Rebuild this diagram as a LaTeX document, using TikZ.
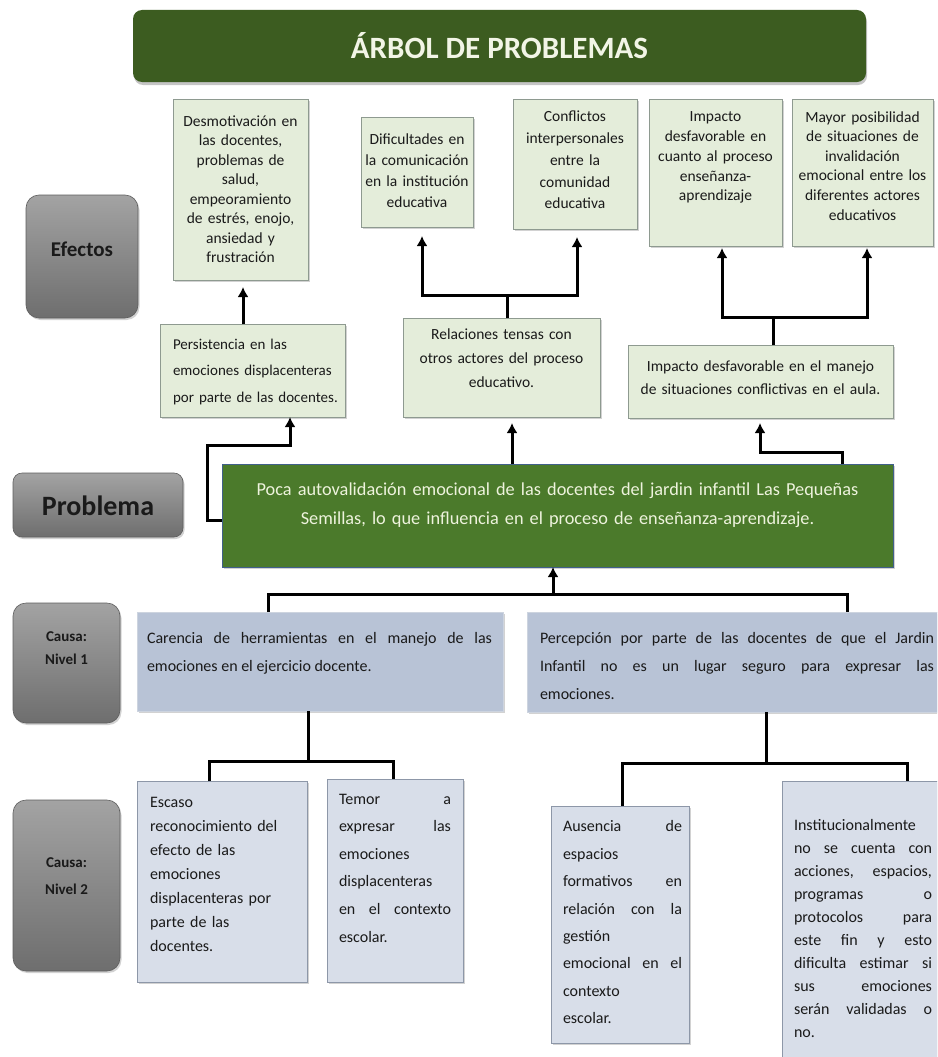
\documentclass[tikz,border=0pt]{standalone}
\usepackage{fontspec}
\setmainfont{Carlito}
\usetikzlibrary{arrows.meta,shadows}
\tolerance=10000
\hbadness=10000
\hyphenpenalty=10000
\definecolor{titlegreen}{HTML}{3C5C20}
\definecolor{titletext}{HTML}{F2F5E6}
\definecolor{probgreen}{HTML}{4B7A2B}
\definecolor{probtext}{HTML}{EEF3DD}
\definecolor{probdraw}{HTML}{41608A}
\definecolor{effill}{HTML}{E4EDDA}
\definecolor{efdraw}{HTML}{8E9A90}
\definecolor{cafill}{HTML}{B8C3D6}
\definecolor{cadraw}{HTML}{CDD4DF}
\definecolor{cbfill}{HTML}{D8DEE9}
\definecolor{cbdraw}{HTML}{8D97A8}
\definecolor{labtop}{HTML}{A3A3A3}
\definecolor{labbot}{HTML}{6E6E6E}
\definecolor{labdraw}{HTML}{5E5E5E}
\definecolor{txt}{HTML}{1A1A1A}
\begin{document}
\begin{tikzpicture}[x=1pt,y=-1pt,
  box/.style={rectangle, inner sep=0pt, outer sep=0pt, anchor=north west},
  sh/.style={drop shadow={opacity=0.35, shadow xshift=1.5pt, shadow yshift=-2pt}},
  efbox/.style={box, fill=effill, draw=efdraw, line width=0.8pt, sh},
  cabox/.style={box, fill=cafill, draw=cadraw, line width=0.8pt, sh},
  cbbox/.style={box, fill=cbfill, draw=cbdraw, line width=0.8pt, sh},
  labbox/.style={box, rounded corners=13pt, top color=labtop, bottom color=labbot, draw=labdraw, line width=0.6pt, sh},
  tx/.style={inner sep=0pt, outer sep=0pt, text=txt},
  eftx/.style={tx, anchor=north, align=center},
  arr/.style={line width=3pt, -{Latex[length=10pt,width=11pt]}},
  conn/.style={line width=3pt}]
\useasboundingbox (0,0) rectangle (937,1057);
\clip (0,0) rectangle (937,1057);
\fill[white] (0,0) rectangle (937,1057);

% title
\node[box, minimum width=733pt, minimum height=72pt, fill=titlegreen, rounded corners=9pt,
  drop shadow={opacity=0.45, shadow xshift=1pt, shadow yshift=-3pt}] (title) at (133,10) {};
\node[tx, text=titletext, font=\bfseries\fontsize{31}{31}\selectfont] (titletx) at (title.center) {ÁRBOL DE PROBLEMAS};

% side labels
\node[labbox, minimum width=112pt, minimum height=123pt] (lefe) at (26,195) {};
\node[tx, font=\bfseries\fontsize{21}{21}\selectfont] (lefetx) at (82,249) {Efectos};
\node[labbox, rounded corners=9pt, minimum width=170pt, minimum height=64pt] (lprob) at (13,473) {};
\node[tx, font=\bfseries\fontsize{28}{28}\selectfont] (lprobtx) at (98,506) {Problema};
\node[labbox, minimum width=107pt, minimum height=120pt] (lc1) at (13,603) {};
\node[tx, anchor=north, align=center, font=\bfseries\fontsize{15}{23}\selectfont] (lc1tx) at (66.5,624.9) {\strut Causa:\\Nivel 1};
\node[labbox, minimum width=107pt, minimum height=171pt] (lc2) at (13,800) {};
\node[tx, anchor=north, align=center, font=\bfseries\fontsize{15}{27}\selectfont] (lc2tx) at (66.5,848.1) {\strut Causa:\\Nivel 2};

% top effects
\node[efbox, minimum width=135pt, minimum height=181pt] (e1) at (173,99) {};
\node[eftx, text width=132pt, font=\fontsize{15.5}{19.5}\selectfont] (e1tx) at (240.5,112.35)
  {\strut Desmotivación en\\las docentes,\\problemas de\\salud,\\empeoramiento\\de estrés, enojo,\\ansiedad y\\frustración};
\node[efbox, minimum width=112pt, minimum height=110pt] (e2) at (361,117) {};
\node[eftx, text width=112pt, font=\fontsize{15.5}{21}\selectfont] (e2tx) at (417,129.3)
  {\strut Dificultades en\\la comunicación\\en la institución\\educativa};
\node[efbox, minimum width=124pt, minimum height=130pt] (e3) at (513,99) {};
\node[eftx, text width=122pt, font=\fontsize{15.5}{21.7}\selectfont] (e3tx) at (575,106.8)
  {\strut Conflictos\\interpersonales\\entre la\\comunidad\\educativa};
\node[efbox, minimum width=133pt, minimum height=147pt] (e4) at (649,99) {};
\node[eftx, text width=130pt, font=\fontsize{15.5}{19.7}\selectfont] (e4tx) at (715.5,108.2)
  {\strut Impacto\\desfavorable en\\cuanto al proceso\\enseñanza-\\aprendizaje};
\node[efbox, minimum width=141pt, minimum height=147pt] (e5) at (792,99) {};
\node[eftx, text width=138pt, font=\fontsize{15.5}{19.6}\selectfont] (e5tx) at (862.5,108.3)
  {\strut Mayor posibilidad\\de situaciones de\\invalidación\\emocional entre los\\diferentes actores\\educativos};

% middle effects
\node[efbox, minimum width=185pt, minimum height=93pt] (m1) at (160,324) {};
\node[tx, anchor=north west, align=left, text width=190pt, font=\fontsize{15}{26.5}\selectfont] (m1tx) at (173,330.45)
  {\strut Persistencia en las\\emociones displacenteras\\por parte de las docentes.};
\node[efbox, minimum width=197pt, minimum height=99pt] (m2) at (403,318) {};
\node[eftx, text width=195pt, font=\fontsize{15.5}{24}\selectfont] (m2tx) at (501.5,322.2)
  {\strut Relaciones tensas con\\otros actores del proceso\\educativo.};
\node[efbox, minimum width=265pt, minimum height=73pt] (m3) at (628,345) {};
\node[eftx, text width=262pt, font=\fontsize{15.5}{23.5}\selectfont] (m3tx) at (760.5,354.55)
  {\strut Impacto desfavorable en el manejo\\de situaciones conflictivas en el aula.};

% problem
\node[box, minimum width=671pt, minimum height=103pt, fill=probgreen, draw=probdraw, line width=0.8pt, sh] (p) at (222,464) {};
\node[tx, anchor=north, align=center, text=probtext, text width=665pt, font=\fontsize{18.3}{29}\selectfont] (ptx) at (557.5,474.7)
  {\strut Poca autovalidación emocional de las docentes del jardin infantil Las Pequeñas\\Semillas, lo que influencia en el proceso de enseñanza-aprendizaje.};

% causes level 1
\node[cabox, minimum width=366pt, minimum height=99pt] (c1) at (137,612) {};
\node[tx, anchor=north west, align=justify, text width=345pt, font=\fontsize{16}{28}\selectfont] (c1tx) at (147,623.4)
  {\strut Carencia de herramientas en el manejo de las\linebreak emociones en el ejercicio docente.};
\node[cabox, minimum width=433pt, minimum height=100pt] (c2) at (527,612) {};
\node[tx, anchor=north west, align=justify, text width=394pt, font=\fontsize{16}{28}\selectfont] (c2tx) at (540,623.4)
  {\strut Percepción por parte de las docentes de que el Jardin\linebreak Infantil no es un lugar seguro para expresar las\linebreak emociones.};

% causes level 2
\node[cbbox, minimum width=170pt, minimum height=201pt] (l1) at (137,781) {};
\node[tx, anchor=north west, align=left, text width=152pt, font=\fontsize{16}{24}\selectfont] (l1tx) at (150,790.2)
  {\strut Escaso\\reconocimiento del\\efecto de las\\emociones\\displacenteras por\\parte de las\\docentes.};
\node[cbbox, minimum width=136pt, minimum height=203pt] (l2) at (327,779) {};
\node[tx, anchor=north west, align=justify, text width=112pt, font=\fontsize{16}{27.6}\selectfont] (l2tx) at (339,784.7)
  {\strut Temor a\linebreak expresar las\linebreak emociones\linebreak displacenteras\linebreak en el contexto\linebreak escolar.};
\node[cbbox, minimum width=138pt, minimum height=237pt] (l3) at (551,806) {};
\node[tx, anchor=north west, align=justify, text width=119pt, font=\fontsize{16}{27.4}\selectfont] (l3tx) at (563,812.8)
  {\strut Ausencia de\linebreak espacios\linebreak formativos en\linebreak relación con la\linebreak gestión\linebreak emocional en el\linebreak contexto\linebreak escolar.};
\node[cbbox, minimum width=170pt, minimum height=290pt] (l4) at (782,781) {};
\node[tx, anchor=north west, align=justify, text width=138pt, font=\fontsize{16}{23}\selectfont] (l4tx) at (794,813.9)
  {\strut Institucionalmente\linebreak no se cuenta con\linebreak acciones, espacios,\linebreak programas o\linebreak protocolos para\linebreak este fin y esto\linebreak dificulta estimar si\linebreak sus emociones\linebreak serán validadas o\linebreak no.};

% connectors
\coordinate (ja) at (243,0);
\draw[arr, shorten >=7pt] (ja |- m1.north) -- (ja |- e1.south);

\coordinate (jb0) at (0,520);
\coordinate (jb1) at (207,445);
\coordinate (jb2) at (290,445);
\draw[arr] (p.west |- jb0) -| (jb1) -- (jb2) -- (jb2 |- m1.south);

\coordinate (jc) at (512,0);
\draw[arr, shorten >=6pt] (jc |- p.north) -- (jc |- m2.south);

\coordinate (jd1) at (842,452);
\coordinate (jd2) at (760,452);
\draw[arr, shorten >=5pt] (jd1 |- p.north) -- (jd1) -- (jd2) -- (jd2 |- m3.south);

\coordinate (je) at (507,295);
\coordinate (je1) at (422,295);
\coordinate (je2) at (577,295);
\draw[conn] (je |- m2.north) -- (je);
\draw[arr, shorten >=9pt] (je) -- (je1) -- (je1 |- e2.south);
\draw[arr, shorten >=8pt] (je) -- (je2) -- (je2 |- e3.south);

\coordinate (jf) at (773,317);
\coordinate (jf1) at (722,317);
\coordinate (jf2) at (867,317);
\draw[conn] (jf |- m3.north) -- (jf);
\draw[arr, shorten >=2pt] (jf) -- (jf1) -- (jf1 |- e4.south);
\draw[arr, shorten >=2pt] (jf) -- (jf2) -- (jf2 |- e5.south);

\coordinate (jg) at (553,594);
\coordinate (jg1) at (268,594);
\coordinate (jg2) at (847,594);
\draw[arr] (jg) -- (jg |- p.south);
\draw[conn] (jg1 |- c1.north) -- (jg1) -- (jg2) -- (jg2 |- c2.north);

\coordinate (jh) at (308,761);
\coordinate (jh1) at (209,761);
\coordinate (jh2) at (393,761);
\draw[conn] (jh |- c1.south) -- (jh);
\draw[conn] (jh1 |- l1.north) -- (jh1) -- (jh2) -- (jh2 |- l2.north);

\coordinate (ji) at (766,763);
\coordinate (ji1) at (622,763);
\coordinate (ji2) at (907,763);
\draw[conn] (ji |- c2.south) -- (ji);
\draw[conn] (ji1 |- l3.north) -- (ji1) -- (ji2) -- (ji2 |- l4.north);
\end{tikzpicture}
\end{document}
